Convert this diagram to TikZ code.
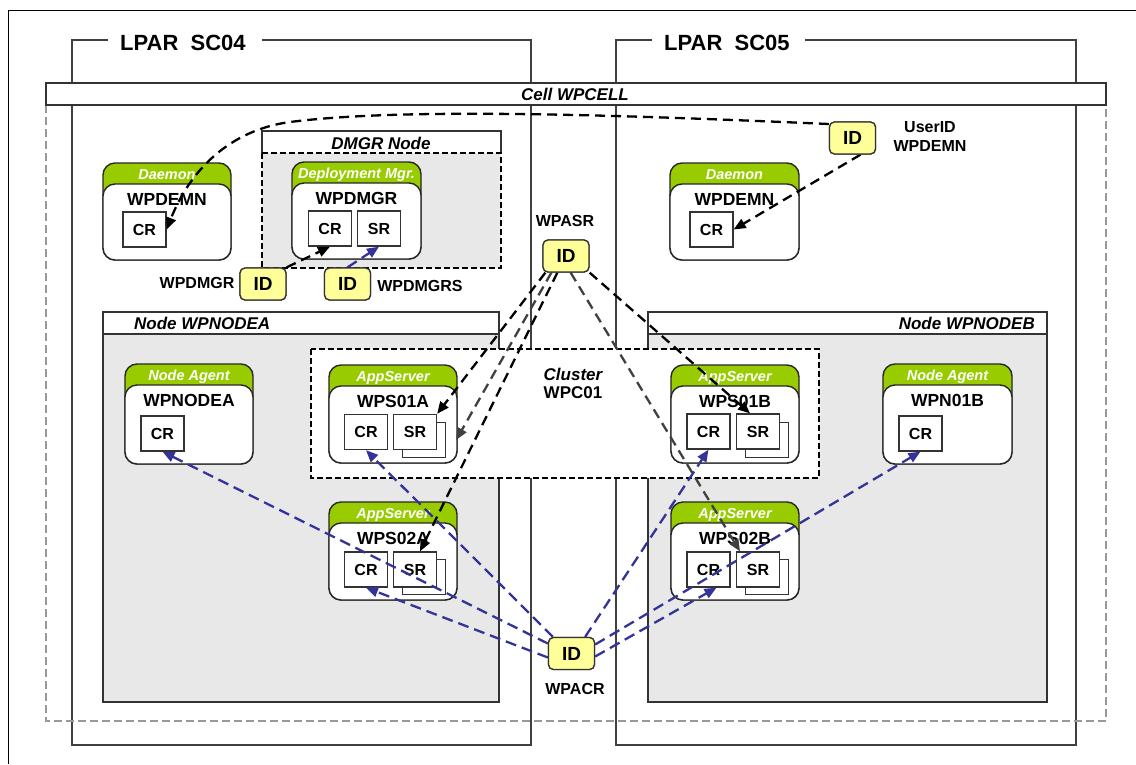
\documentclass[tikz,border=0pt]{standalone}
\usepackage{fontspec}
\setmainfont{Liberation Sans}
\usetikzlibrary{arrows.meta,calc}
\definecolor{hdrgreen}{HTML}{99CC00}
\definecolor{idyel}{HTML}{FFFF99}
\definecolor{cblue}{HTML}{333399}
\definecolor{nodegray}{HTML}{E8E8E8}
\newcommand\fsz[1]{\fontsize{#1}{#1}\selectfont}
\tikzset{
 frameline/.style={draw=black, line width=1pt},
 lparline/.style={draw=black!75, line width=1.3pt},
 cellbar/.style={draw=black!80, fill=white, line width=1.2pt},
 celldash/.style={draw=black!40, line width=1.8pt, dash pattern=on 8pt off 4pt},
 nodehdr/.style={draw=black!80, line width=1.3pt},
 nodebody/.style={draw=black!80, fill=nodegray, line width=1.3pt},
 dashbody/.style={draw=black, line width=2pt, dash pattern=on 6pt off 3pt},
 appouter/.style={draw=black!85, fill=hdrgreen, line width=1.4pt, rounded corners=12pt},
 appinner/.style={draw=black!85, fill=white, line width=1.4pt, rounded corners=12pt},
 hdrtext/.style={inner sep=0pt, anchor=base, text=white, font=\fsz{14.5}\bfseries\itshape},
 titletext/.style={inner sep=0pt, font=\fsz{17.5}\bfseries},
 regbox/.style={draw=black!80, fill=white, line width=1.3pt, minimum width=43pt, minimum height=35pt, inner sep=0pt, font=\fsz{16}\bfseries},
 shadowbox/.style={draw=black!80, fill=white, line width=1.3pt, minimum width=43pt, minimum height=35pt, inner sep=0pt},
 idbox/.style={draw=black!80, fill=idyel, line width=1.3pt, rounded corners=5pt, minimum width=46pt, minimum height=32pt, inner sep=0pt, font=\fsz{19}\bfseries},
 lbl/.style={inner sep=0pt, font=\fsz{16}\bfseries},
 ttl/.style={inner sep=0pt, font=\fsz{17}\bfseries\itshape},
 lpartitle/.style={inner sep=0pt, anchor=west, font=\fsz{22}\bfseries},
 blk/.style={draw=black, line width=2.3pt, dash pattern=on 10pt off 6pt, -{Triangle[length=12pt,width=10pt]}},
 gry/.style={draw=black!75, line width=2.3pt, dash pattern=on 10pt off 6pt, -{Triangle[length=12pt,width=10pt]}},
 blu/.style={draw=cblue, line width=2.3pt, dash pattern=on 11pt off 6pt, -{Triangle[length=12pt,width=10pt]}},
}
\newcommand\appbox[7]{%
 \draw[appouter] (#2,#3) rectangle (#4,#5);
 \draw[appinner] (#2,#3+21) rectangle (#4,#5);
 \node[hdrtext] (#1h) at ({(#2+#4)/2},#3+16) {#6};
 \node[titletext] (#1t) at ({(#2+#4)/2},#3+36.5) {#7};
}
\begin{document}
\begin{tikzpicture}[x=1pt,y=-1pt]
\useasboundingbox (0,0) rectangle (1136,764);
% outer frame
\draw[frameline] (8,764) -- (8,10) -- (1136,10);
% LPARs
\draw[lparline] (108,40) -- (72,40) -- (72,745) -- (531,745) -- (531,40) -- (262,40);
\node[lpartitle] (lpar4) at (120,43) {LPAR~~SC04};
\draw[lparline] (652,40) -- (616,40) -- (616,745) -- (1076,745) -- (1076,40) -- (805,40);
\node[lpartitle] (lpar5) at (664,43) {LPAR~~SC05};
% cell
\draw[celldash] (46,105) rectangle (1106,721);
\draw[cellbar] (46,83) rectangle (1106,105);
\node[ttl] (cell) at (575,94) {Cell WPCELL};
% nodes
\draw[nodebody] (103,334) rectangle (499,702);
\draw[nodehdr, fill=white] (103,312) rectangle (499,334);
\node[ttl, anchor=west] (nodeA) at (134,323) {Node WPNODEA};
\draw[nodebody] (648,334) rectangle (1047,702);
\draw[nodehdr, fill=white] (648,312) rectangle (1047,334);
\node[ttl, anchor=east] (nodeB) at (1035,323) {Node WPNODEB};
% DMGR node
\fill[white] (262,131) rectangle (501,153);
\draw[nodehdr] (262,153) -- (262,131) -- (501,131) -- (501,153);
\draw[dashbody, fill=nodegray] (262,153) rectangle (501,268);
\node[ttl] (dmgrn) at (381,143) {DMGR Node};
% cluster
\draw[dashbody, fill=white] (311,349) rectangle (819,478);
\node[ttl] (cl1) at (573,374) {Cluster};
\node[titletext, font=\fsz{17}\bfseries] (cl2) at (573,393) {WPC01};
% servers
\appbox{dmL}{103}{163}{231}{260}{Daemon}{WPDEMN}
\node[regbox] (dmLcr) at (144.5,229.5) {CR};
\appbox{dmgr}{292}{162}{421}{259}{Deployment Mgr.}{WPDMGR}
\node[regbox] (dmgrcr) at (330,228.5) {CR};
\node[regbox] (dmgrsr) at (379,228.5) {SR};
\appbox{dmR}{670}{163}{799}{260}{Daemon}{WPDEMN}
\node[regbox] (dmRcr) at (711.5,229.5) {CR};
\appbox{naA}{125}{364}{253}{464}{Node Agent}{WPNODEA}
\node[regbox] (naAcr) at (162.5,433.5) {CR};
\appbox{sa}{329}{365}{457}{463}{AppServer}{WPS01A}
\node[shadowbox] (s1ash) at (424,440) {};
\node[regbox] (s1acr) at (366,432) {CR};
\node[regbox] (s1asr) at (415,432) {SR};
\appbox{sb}{329}{502}{457}{600}{AppServer}{WPS02A}
\node[shadowbox] (s2ash) at (424,577) {};
\node[regbox] (s2acr) at (366,569.5) {CR};
\node[regbox] (s2asr) at (415,569.5) {SR};
\appbox{sc}{671}{365}{799}{463}{AppServer}{WPS01B}
\node[shadowbox] (s1bsh) at (767,440) {};
\node[regbox] (s1bcr) at (708.5,431.5) {CR};
\node[regbox] (s1bsr) at (758,431.5) {SR};
\appbox{sd}{671}{502}{799}{600}{AppServer}{WPS02B}
\node[shadowbox] (s2bsh) at (767,577) {};
\node[regbox] (s2bcr) at (708.5,569.5) {CR};
\node[regbox] (s2bsr) at (758,569.5) {SR};
\appbox{naB}{883}{364}{1012}{464}{Node Agent}{WPN01B}
\node[regbox] (naBcr) at (920.5,433.5) {CR};
% id boxes (coordinates for connectors)
\node[idbox] (iddmgr) at (263,284) {ID};
\node[idbox] (iddmgrs) at (347.5,284) {ID};
\node[idbox] (iduser) at (852.5,138) {ID};
\node[idbox] (idasr) at (566,256) {ID};
\node[idbox] (idacr) at (571.5,653.5) {ID};
% connectors
\draw[blk] ([yshift=14pt]iduser.west) .. controls (600,114) and (400,108) .. (290,122)
   .. controls (230,130) and (190,170) .. (dmLcr.east);
\draw[blk] ([xshift=8pt]iduser.south) -- (dmRcr.east);
\draw[blk] (iddmgr.north east) -- (dmgrcr.south);
\draw[blu] (iddmgrs.north) -- (dmgrsr.south);
\draw[blk] ([xshift=3pt]idasr.south west) -- (s1asr.north east);
\draw[gry] ([xshift=9pt]idasr.south west) -- ([xshift=10pt]s1ash.east);
\draw[blk] ([xshift=15pt]idasr.south west) -- ([xshift=5pt]s2asr.north);
\draw[gry] ([xshift=-19pt]idasr.south east) -- ([xshift=-18pt]s2bsr.north);
\draw[blk] (idasr.south east) -- ([xshift=-8pt]s1bsr.north);
\draw[blu] ([yshift=10pt]idacr.west) -- (naAcr.south);
\draw[blu] ([xshift=5pt]idacr.north west) -- (s1acr.south);
\draw[blu] ([yshift=-4pt]idacr.west) -- (s2acr.south);
\draw[blu] ([xshift=-10pt]idacr.north east) -- (s1bcr.south);
\draw[blu] ([yshift=9pt]idacr.east) -- (naBcr.south);
\draw[blu] ([yshift=-3pt]idacr.east) -- ([xshift=8pt]s2bcr.south);
% id boxes on top
\node[idbox] at (iddmgr) {ID};
\node[idbox] at (iddmgrs) {ID};
\node[idbox] at (iduser) {ID};
\node[idbox] at (idasr) {ID};
\node[idbox] at (idacr) {ID};
% labels
\node[lbl] (lbdmgr) at (197,283) {WPDMGR};
\node[lbl] (lbdmgrs) at (420,286) {WPDMGRS};
\node[lbl] (lbuser1) at (930,127) {UserID};
\node[lbl] (lbuser2) at (930,146) {WPDEMN};
\node[lbl] (lbasr) at (565,221) {WPASR};
\node[lbl] (lbacr) at (575,689) {WPACR};
\end{tikzpicture}
\end{document}
